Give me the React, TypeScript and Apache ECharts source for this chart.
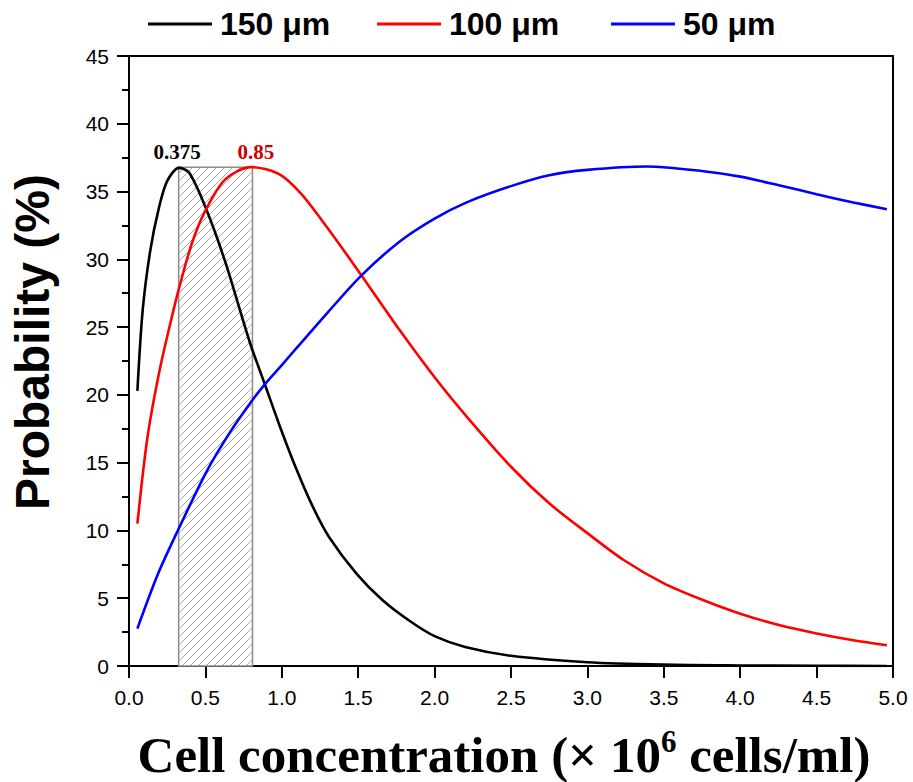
import React, { useEffect, useRef } from "react";
import * as echarts from "echarts";

// ---- data ----
const seriesNames = ["150 μm", "100 μm", "50 μm"];
const seriesColors = ["#000000", "#ff0000", "#0000ff"];

const x150 = [0.055, 0.09, 0.14, 0.197, 0.251, 0.327, 0.393, 0.502, 0.633, 0.79, 0.89, 0.99, 1.1, 1.205, 1.31, 1.49, 1.66, 1.84, 2.0, 2.2, 2.5, 3.0, 3.5, 4.0, 4.5, 4.96];
const y150 = [20.3, 26.3, 30.7, 33.85, 35.8, 36.75, 36.4, 33.8, 29.7, 23.9, 20.75, 17.6, 14.4, 11.7, 9.5, 6.8, 4.85, 3.3, 2.2, 1.4, 0.75, 0.28, 0.1, 0.04, 0.015, 0.005];

const x100 = [0.055, 0.12, 0.2, 0.29, 0.34, 0.415, 0.5, 0.63, 0.8, 0.98, 1.13, 1.28, 1.51, 1.77, 2.0, 2.21, 2.5, 2.75, 3.0, 3.24, 3.5, 3.76, 4.0, 4.26, 4.5, 4.74, 4.96];
const y100 = [10.5, 16.8, 21.8, 26.2, 28.4, 31.3, 33.6, 35.9, 36.8, 36.3, 34.8, 32.6, 29.0, 24.8, 21.3, 18.4, 14.7, 12.0, 9.8, 7.8, 6.1, 4.85, 3.86, 3.0, 2.4, 1.9, 1.53];

const x50 = [0.055, 0.19, 0.32, 0.51, 0.67, 0.8, 0.89, 1.0, 1.1, 1.31, 1.52, 1.77, 2.0, 2.21, 2.5, 2.75, 3.0, 3.39, 3.76, 4.0, 4.26, 4.5, 4.74, 4.96];
const y50 = [2.76, 6.8, 10.0, 14.4, 17.4, 19.5, 20.8, 22.2, 23.5, 26.2, 28.8, 31.3, 33.0, 34.2, 35.4, 36.2, 36.6, 36.85, 36.5, 36.1, 35.45, 34.8, 34.2, 33.7];

// hatched band
const bandX = [0.325, 0.808];
const bandTop = 36.8;

// peak annotations
const peakLabels = ["0.375", "0.85"];
const peakLabelX = [0.315, 0.83];
const peakLabelColors = ["#000000", "#cc0000"];

// axes
const xMin = 0, xMax = 5, xInterval = 0.5;
const yMin = 0, yMax = 45, yInterval = 5;

const xTitle = ["Cell concentration (× 10", "6", " cells/ml)"];
const yTitle = "Probability (%)";

const legendLefts = [143, 372, 606];

function zip(xs: number[], ys: number[]) {
  return xs.map((x, i) => [x, ys[i]]);
}

function makeHatch() {
  const s = 8;
  const c = document.createElement("canvas");
  c.width = s;
  c.height = s;
  const ctx = c.getContext("2d")!;
  ctx.fillStyle = "#ffffff";
  ctx.fillRect(0, 0, s, s);
  ctx.strokeStyle = "#a8a8a8";
  ctx.lineWidth = 1;
  ctx.beginPath();
  ctx.moveTo(-1, s + 1);
  ctx.lineTo(s + 1, -1);
  ctx.moveTo(-1, 1);
  ctx.lineTo(1, -1);
  ctx.moveTo(s - 1, s + 1);
  ctx.lineTo(s + 1, s - 1);
  ctx.stroke();
  return c;
}

export default function App() {
  const ref = useRef<HTMLDivElement>(null);
  useEffect(() => {
    if (!ref.current) return;
    const chart = echarts.init(ref.current, undefined, { renderer: "svg" });
    const hatch = makeHatch();
    const datas = [zip(x150, y150), zip(x100, y100), zip(x50, y50)];
    const series: any[] = datas.map((d, i) => ({
      name: seriesNames[i],
      type: "line",
      data: d,
      smooth: 0.3,
      symbol: "none",
      z: 5,
      lineStyle: { color: seriesColors[i], width: 2.6 },
      itemStyle: { color: seriesColors[i] },
    }));
    series[0].markArea = {
      silent: true,
      z: 1,
      itemStyle: {
        color: { image: hatch, repeat: "repeat" },
        borderColor: "#8c8c8c",
        borderWidth: 1.5,
      },
      data: [[{ coord: [bandX[0], 0] }, { coord: [bandX[1], bandTop] }]],
    };
    series[0].markPoint = {
      silent: true,
      symbol: "circle",
      symbolSize: 0,
      data: peakLabels.map((t, i) => ({
        coord: [peakLabelX[i], bandTop],
        label: {
          show: true,
          position: "top",
          distance: 5,
          formatter: t,
          color: peakLabelColors[i],
          fontFamily: "Liberation Serif",
          fontWeight: "bold",
          fontSize: 21,
        },
      })),
    };

    chart.setOption({
      animation: false,
      backgroundColor: "#ffffff",
      grid: {
        left: 129,
        right: 20,
        top: 56,
        bottom: 116,
        show: true,
        borderColor: "#000",
        borderWidth: 2,
      },
      legend: seriesNames.map((n, i) => ({
        data: [n],
        left: legendLefts[i],
        top: 3,
        icon: "rect",
        itemWidth: 64,
        itemHeight: 3,
        selectedMode: false,
        textStyle: {
          fontFamily: "Liberation Sans",
          fontWeight: "bold",
          fontSize: 32,
          color: "#000",
          padding: [0, 0, 0, 3],
        },
      })),
      xAxis: {
        type: "value",
        min: xMin,
        max: xMax,
        interval: xInterval,
        axisLine: { show: true, lineStyle: { color: "#000", width: 2 } },
        axisTick: { show: true, inside: false, length: 12, lineStyle: { color: "#000", width: 2 } },
        splitLine: { show: false },
        axisLabel: {
          margin: 21,
          color: "#000",
          fontFamily: "Liberation Sans",
          fontSize: 21,
          formatter: (v: number) => v.toFixed(1),
        },
      },
      yAxis: {
        type: "value",
        min: yMin,
        max: yMax,
        interval: yInterval,
        axisLine: { show: true, lineStyle: { color: "#000", width: 2 } },
        axisTick: { show: true, inside: false, length: 12, lineStyle: { color: "#000", width: 2 } },
        minorTick: { show: true, splitNumber: 2, length: 7, lineStyle: { color: "#000", width: 2 } },
        splitLine: { show: false },
        minorSplitLine: { show: false },
        axisLabel: {
          margin: 20,
          color: "#000",
          fontFamily: "Liberation Sans",
          fontSize: 21,
        },
      },
      graphic: [
        {
          type: "text",
          x: 32,
          y: 342,
          rotation: Math.PI / 2,
          style: {
            text: yTitle,
            fontFamily: "Liberation Sans",
            fontWeight: "bold",
            fontSize: 48,
            fill: "#000",
            align: "center",
            verticalAlign: "middle",
          },
        },
        {
          type: "text",
          x: 504,
          y: 755,
          style: {
            text: `{a|${xTitle[0]}}{s|${xTitle[1]}}{a|${xTitle[2]}}`,
            align: "center",
            verticalAlign: "middle",
            rich: {
              a: {
                fontFamily: "Liberation Serif",
                fontWeight: "bold",
                fontSize: 51,
                fill: "#000",
                color: "#000",
                lineHeight: 58,
              },
              s: {
                fontFamily: "Liberation Serif",
                fontWeight: "bold",
                fontSize: 31,
                color: "#000",
                fill: "#000",
                verticalAlign: "top",
                lineHeight: 31,
              },
            },
          },
        },
      ],
      series,
    });
    return () => chart.dispose();
  }, []);
  return (
    <div
      ref={ref}
      style={{ position: "absolute", left: 0, top: 0, width: 913, height: 782 }}
    />
  );
}
